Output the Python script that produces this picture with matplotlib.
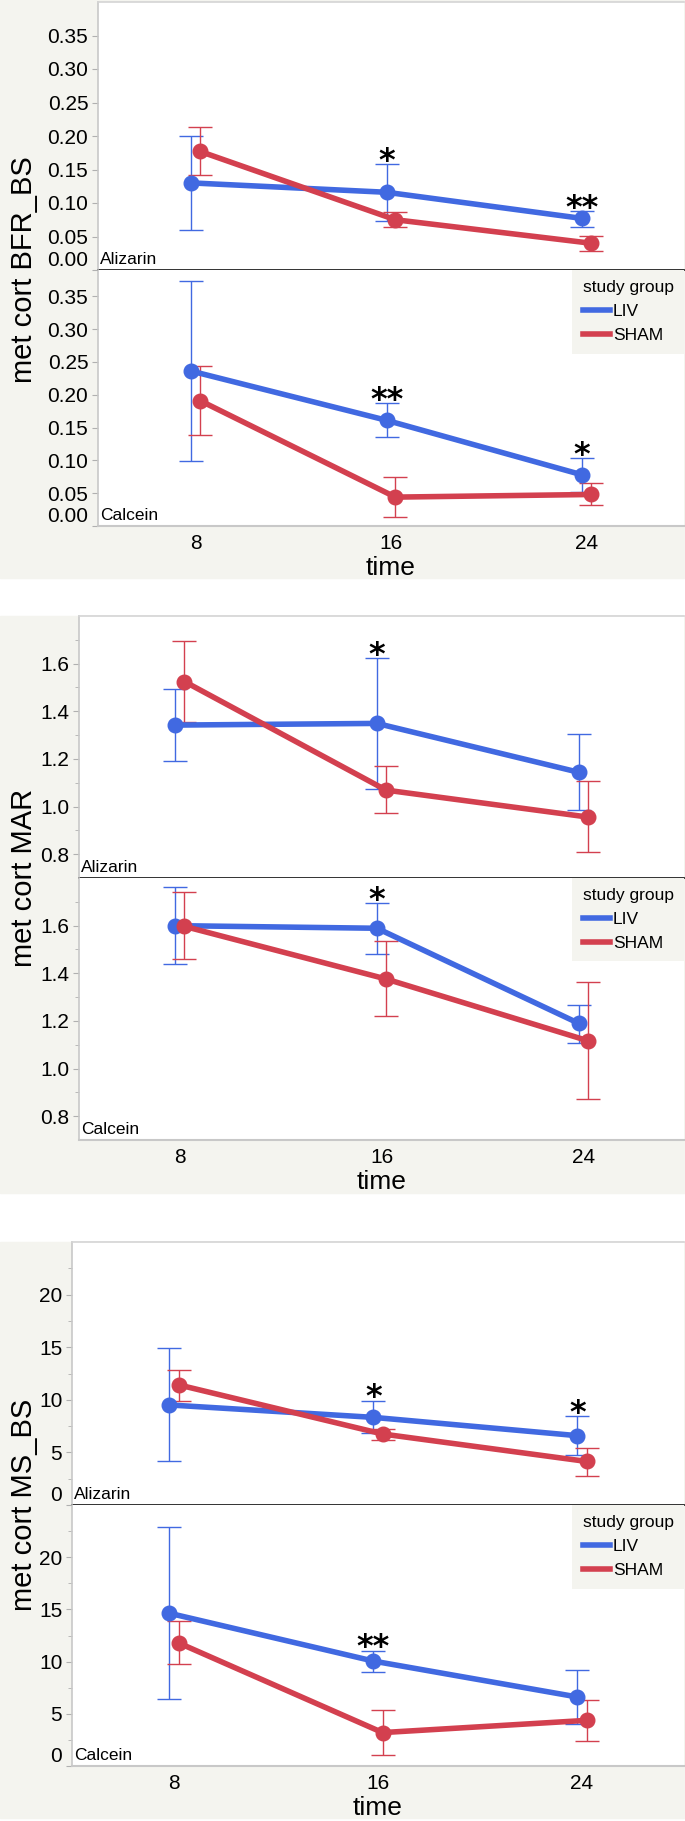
import matplotlib
matplotlib.use("Agg")
import matplotlib.pyplot as plt
from matplotlib.patches import Rectangle
from matplotlib.lines import Line2D
from matplotlib.ticker import FixedLocator

plt.rcParams["font.family"] = ["Liberation Sans", "DejaVu Sans"]

# x categories (weeks)
time = [8, 16, 24]
groups = ["LIV", "SHAM"]

# BFR_BS, Alizarin
bfr_ali_liv = [0.130, 0.116, 0.077]
bfr_ali_liv_lo = [0.060, 0.073, 0.064]
bfr_ali_liv_hi = [0.200, 0.158, 0.088]
bfr_ali_sham = [0.177, 0.075, 0.040]
bfr_ali_sham_lo = [0.142, 0.064, 0.029]
bfr_ali_sham_hi = [0.213, 0.087, 0.051]
bfr_ali_stars = ["", "*", "**"]

# BFR_BS, Calcein
bfr_cal_liv = [0.236, 0.161, 0.078]
bfr_cal_liv_lo = [0.099, 0.135, 0.052]
bfr_cal_liv_hi = [0.373, 0.187, 0.103]
bfr_cal_sham = [0.191, 0.044, 0.048]
bfr_cal_sham_lo = [0.139, 0.014, 0.032]
bfr_cal_sham_hi = [0.244, 0.074, 0.065]
bfr_cal_stars = ["", "**", "*"]

# MAR, Alizarin
mar_ali_liv = [1.342, 1.349, 1.144]
mar_ali_liv_lo = [1.191, 1.075, 0.985]
mar_ali_liv_hi = [1.494, 1.623, 1.304]
mar_ali_sham = [1.525, 1.069, 0.956]
mar_ali_sham_lo = [1.354, 0.975, 0.808]
mar_ali_sham_hi = [1.697, 1.171, 1.107]
mar_ali_stars = ["", "*", ""]

# MAR, Calcein
mar_cal_liv = [1.600, 1.589, 1.190]
mar_cal_liv_lo = [1.438, 1.480, 1.109]
mar_cal_liv_hi = [1.764, 1.694, 1.267]
mar_cal_sham = [1.597, 1.376, 1.117]
mar_cal_sham_lo = [1.459, 1.220, 0.874]
mar_cal_sham_hi = [1.740, 1.534, 1.362]
mar_cal_stars = ["", "*", ""]

# MS_BS, Alizarin
ms_ali_liv = [9.51, 8.33, 6.59]
ms_ali_liv_lo = [4.20, 6.81, 4.74]
ms_ali_liv_hi = [14.88, 9.92, 8.43]
ms_ali_sham = [11.42, 6.75, 4.14]
ms_ali_sham_lo = [9.92, 6.17, 2.80]
ms_ali_sham_hi = [12.85, 7.25, 5.44]
ms_ali_stars = ["", "*", "*"]

# MS_BS, Calcein
ms_cal_liv = [14.63, 10.05, 6.61]
ms_cal_liv_lo = [6.39, 9.01, 3.99]
ms_cal_liv_hi = [22.90, 11.06, 9.20]
ms_cal_sham = [11.79, 3.20, 4.37]
ms_cal_sham_lo = [9.73, 1.05, 2.44]
ms_cal_sham_hi = [13.87, 5.38, 6.29]
ms_cal_stars = ["", "**", ""]

BLUE = "#4169E1"
RED = "#D3404F"
BG = "#F4F4EF"
W, H = 685, 1821

fig = plt.figure(figsize=(W / 100, H / 100), dpi=100)


def box(left, top, right, bottom):
    return [left / W, 1 - bottom / H, (right - left) / W, (bottom - top) / H]


def background(top, bottom):
    fig.patches.append(Rectangle((0, 1 - bottom / H), 1, (bottom - top) / H,
                                 transform=fig.transFigure, color=BG, zorder=-10))


def draw_series(ax, x, mean, lo, hi, color):
    yerr = [[m - l for m, l in zip(mean, lo)], [h - m for m, h in zip(mean, hi)]]
    ax.errorbar(x, mean, yerr=yerr, fmt="none", ecolor=color, elinewidth=1,
                capsize=8.5, capthick=1, zorder=2)
    ax.plot(x, mean, color=color, lw=4, marker="o", markersize=10.5,
            solid_capstyle="round", zorder=3)


def draw_sub(ax, liv, liv_lo, liv_hi, sham, sham_lo, sham_hi, stars,
             ylim, ticks, minor, fmt, name, is_top):
    x_liv = [t - 0.18 for t in time]
    x_sham = [t + 0.18 for t in time]
    draw_series(ax, x_liv, liv, liv_lo, liv_hi, BLUE)
    draw_series(ax, x_sham, sham, sham_lo, sham_hi, RED)
    for xs, top, s in zip(x_liv, liv_hi, stars):
        if s:
            ax.annotate(s, (xs, top), xytext=(0, -4), textcoords="offset points",
                        ha="center", va="baseline", fontsize=23, fontweight="bold",
                        family="DejaVu Sans", zorder=4)
    ax.set_xlim(4, 28)
    ax.set_ylim(*ylim)
    ax.yaxis.set_major_locator(FixedLocator(ticks))
    if minor:
        ax.yaxis.set_minor_locator(FixedLocator(minor))
    ax.set_yticklabels([fmt.format(t) for t in ticks])
    ax.tick_params(axis="y", which="both", direction="out", length=4,
                   color="#b0b0b0", labelsize=15, pad=3)
    ax.tick_params(axis="y", which="minor", length=3)
    ax.set_xticks(time)
    ax.tick_params(axis="x", length=0, labelsize=15, pad=6)
    ax.spines["right"].set_visible(False)
    ax.spines["left"].set_color("#c8c8c8")
    ax.spines["left"].set_linewidth(1.2)
    if is_top:
        ax.spines["top"].set_color("#d4d4d4")
        ax.spines["top"].set_linewidth(1.2)
        ax.spines["bottom"].set_color("#222222")
        ax.spines["bottom"].set_linewidth(1.3)
        ax.tick_params(axis="x", labelbottom=False)
    else:
        ax.spines["top"].set_visible(False)
        ax.spines["bottom"].set_color("#c8c8c8")
        ax.spines["bottom"].set_linewidth(1.5)
        ax.set_xlabel("time", fontsize=19, labelpad=2)
    if ticks[0] == ylim[0]:
        ax.yaxis.get_major_ticks()[0].label1.set_verticalalignment("bottom")
    ax.text(0.004, 0.01, name, transform=ax.transAxes, ha="left", va="bottom",
            fontsize=12.5)
    ax.set_facecolor("white")


def legend(ax):
    handles = [Line2D([], [], color=BLUE, lw=4), Line2D([], [], color=RED, lw=4)]
    leg = ax.legend(handles, groups, title="study group", loc="upper right",
                    bbox_to_anchor=(1, 1), borderaxespad=0, frameon=True,
                    fancybox=False, facecolor=BG, edgecolor="none", framealpha=1,
                    fontsize=12.5, title_fontsize=12.5, handlelength=1.6,
                    handletextpad=0.15, labelspacing=0.5, borderpad=0.6)
    leg._legend_box.align = "left"


panels = [
    dict(bg=(0, 578), left=98, top=2, mid=270, bottom=526,
         label="met cort BFR_BS", ylim=[(0, 0.40), (0, 0.39)],
         ticks=[0, 0.05, 0.10, 0.15, 0.20, 0.25, 0.30, 0.35], minor=None, fmt="{:.2f}",
         data=[(bfr_ali_liv, bfr_ali_liv_lo, bfr_ali_liv_hi, bfr_ali_sham,
                bfr_ali_sham_lo, bfr_ali_sham_hi, bfr_ali_stars),
               (bfr_cal_liv, bfr_cal_liv_lo, bfr_cal_liv_hi, bfr_cal_sham,
                bfr_cal_sham_lo, bfr_cal_sham_hi, bfr_cal_stars)]),
    dict(bg=(616, 1193), left=79, top=616, mid=878, bottom=1140,
         label="met cort MAR", ylim=[(0.70, 1.80), (0.70, 1.80)],
         ticks=[0.8, 1.0, 1.2, 1.4, 1.6], minor=[0.9, 1.1, 1.3, 1.5, 1.7], fmt="{:.1f}",
         data=[(mar_ali_liv, mar_ali_liv_lo, mar_ali_liv_hi, mar_ali_sham,
                mar_ali_sham_lo, mar_ali_sham_hi, mar_ali_stars),
               (mar_cal_liv, mar_cal_liv_lo, mar_cal_liv_hi, mar_cal_sham,
                mar_cal_sham_lo, mar_cal_sham_hi, mar_cal_stars)]),
    dict(bg=(1242, 1818), left=72, top=1242, mid=1505, bottom=1766,
         label="met cort MS_BS", ylim=[(0, 25), (0, 25)],
         ticks=[0, 5, 10, 15, 20], minor=[2.5, 7.5, 12.5, 17.5, 22.5], fmt="{:g}",
         data=[(ms_ali_liv, ms_ali_liv_lo, ms_ali_liv_hi, ms_ali_sham,
                ms_ali_sham_lo, ms_ali_sham_hi, ms_ali_stars),
               (ms_cal_liv, ms_cal_liv_lo, ms_cal_liv_hi, ms_cal_sham,
                ms_cal_sham_lo, ms_cal_sham_hi, ms_cal_stars)]),
]

for p in panels:
    background(*p["bg"])
    ax_top = fig.add_axes(box(p["left"], p["top"], 684, p["mid"]))
    ax_bot = fig.add_axes(box(p["left"], p["mid"], 684, p["bottom"]))
    draw_sub(ax_top, *p["data"][0], p["ylim"][0], p["ticks"], p["minor"], p["fmt"],
             "Alizarin", True)
    draw_sub(ax_bot, *p["data"][1], p["ylim"][1], p["ticks"], p["minor"], p["fmt"],
             "Calcein", False)
    legend(ax_bot)
    fig.text(24 / W, 1 - p["mid"] / H, p["label"], rotation=90, ha="center",
             va="center", fontsize=21)

fig.savefig("out.png", dpi=100, facecolor="white")
